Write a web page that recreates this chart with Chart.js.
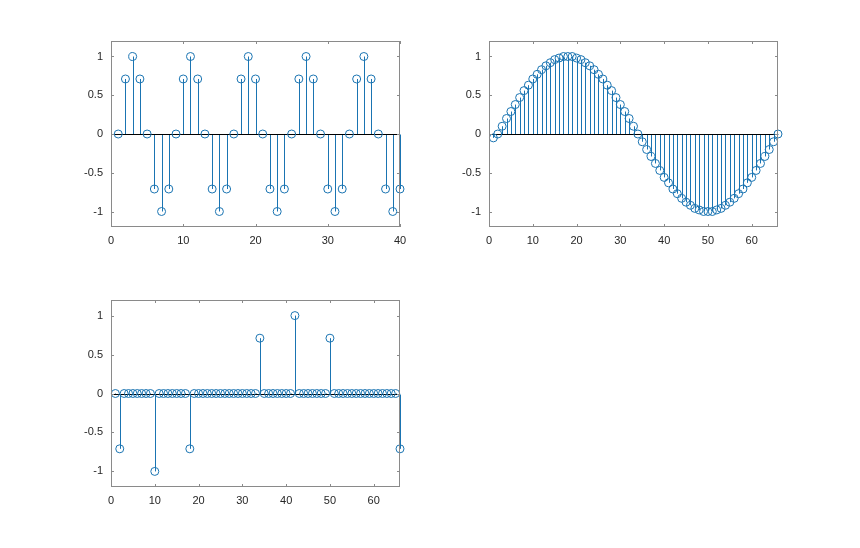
<!DOCTYPE html>
<html>
<head>
<meta charset="utf-8">
<script src="https://cdn.jsdelivr.net/npm/chart.js@4/dist/chart.umd.min.js"></script>
<style>
  html, body { margin: 0; padding: 0; background: #fff; }
  #fig { position: relative; width: 860px; height: 548px; overflow: hidden; }
  canvas { position: absolute; }
</style>
</head>
<body>
<div id="fig">
  <canvas id="ax1" width="344" height="226" style="left:71px;top:31px"></canvas>
  <canvas id="ax2" width="344" height="226" style="left:449px;top:31px"></canvas>
  <canvas id="ax3" width="344" height="227" style="left:71px;top:290px"></canvas>
</div>
<script>
// subplot 1: 40 samples
const sig1 = [
  0, 0.71, 1, 0.71, 0, -0.71, -1, -0.71,
  0, 0.71, 1, 0.71, 0, -0.71, -1, -0.71,
  0, 0.71, 1, 0.71, 0, -0.71, -1, -0.71,
  0, 0.71, 1, 0.71, 0, -0.71, -1, -0.71,
  0, 0.71, 1, 0.71, 0, -0.71, -1, -0.71
];

// subplot 2: 66 samples
const sig2 = [
  -0.05,
  0, 0.10, 0.20, 0.29, 0.38, 0.47, 0.56, 0.63, 0.71, 0.77, 0.83, 0.88, 0.92, 0.96, 0.98, 1.00,
  1.00, 1.00, 0.98, 0.96, 0.92, 0.88, 0.83, 0.77, 0.71, 0.63, 0.56, 0.47, 0.38, 0.29, 0.20, 0.10,
  0, -0.10, -0.20, -0.29, -0.38, -0.47, -0.56, -0.63, -0.71, -0.77, -0.83, -0.88, -0.92, -0.96, -0.98, -1.00,
  -1.00, -1.00, -0.98, -0.96, -0.92, -0.88, -0.83, -0.77, -0.71, -0.63, -0.56, -0.47, -0.38, -0.29, -0.20, -0.10,
  0
];

// subplot 3: 66 samples
const sig3 = [
  0, -0.71, 0, 0, 0, 0, 0, 0, 0, -1,
  0, 0, 0, 0, 0, 0, 0, -0.71, 0, 0,
  0, 0, 0, 0, 0, 0, 0, 0, 0, 0,
  0, 0, 0, 0.71, 0, 0, 0, 0, 0, 0,
  0, 1, 0, 0, 0, 0, 0, 0, 0, 0.71,
  0, 0, 0, 0, 0, 0, 0, 0, 0, 0,
  0, 0, 0, 0, 0, -0.71
];

const xTicks40 = [0, 10, 20, 30, 40];
const xTicks66 = [0, 10, 20, 30, 40, 50, 60];
const yTicks = [-1, -0.5, 0, 0.5, 1];

const stemColor = '#1a74b2';
const boxColor = '#8a8a8a';
const textColor = '#262626';
const tickFont = { family: 'Liberation Sans, Arial, sans-serif', size: 11 };

// stems + baseline before the markers, box + inward ticks after
const stemPlugin = {
  id: 'stems',
  beforeDatasetsDraw(chart) {
    const { ctx, chartArea, scales: { x, y } } = chart;
    const y0 = Math.round(y.getPixelForValue(0)) + 0.5;
    ctx.save();
    ctx.strokeStyle = stemColor;
    ctx.lineWidth = 1;
    chart.data.datasets[0].data.forEach((p) => {
      const px = Math.round(x.getPixelForValue(p.x)) + 0.5;
      ctx.beginPath();
      ctx.moveTo(px, y0);
      ctx.lineTo(px, y.getPixelForValue(p.y));
      ctx.stroke();
    });
    ctx.strokeStyle = '#000';
    ctx.beginPath();
    ctx.moveTo(chartArea.left, y0);
    ctx.lineTo(chartArea.right, y0);
    ctx.stroke();
    ctx.restore();
  },
  afterDraw(chart) {
    const { ctx, chartArea: a, scales: { x, y } } = chart;
    const len = 3;
    ctx.save();
    ctx.strokeStyle = boxColor;
    ctx.lineWidth = 1;
    ctx.strokeRect(a.left + 0.5, a.top + 0.5, a.right - a.left - 1, a.bottom - a.top - 1);
    ctx.beginPath();
    x.ticks.forEach((t) => {
      const px = Math.round(x.getPixelForValue(t.value)) + 0.5;
      ctx.moveTo(px, a.bottom); ctx.lineTo(px, a.bottom - len);
      ctx.moveTo(px, a.top); ctx.lineTo(px, a.top + len);
    });
    y.ticks.forEach((t) => {
      const py = Math.round(y.getPixelForValue(t.value)) + 0.5;
      ctx.moveTo(a.left, py); ctx.lineTo(a.left + len, py);
      ctx.moveTo(a.right, py); ctx.lineTo(a.right - len, py);
    });
    ctx.stroke();
    ctx.restore();
  }
};

function stemChart(canvasId, values, xMax, xTicks) {
  const ctx = document.getElementById(canvasId);
  const points = values.map((v, i) => ({ x: i + 1, y: v }));
  return new Chart(ctx, {
    type: 'scatter',
    data: {
      datasets: [
        {
          data: points,
          pointStyle: 'circle',
          pointRadius: 4,
          pointHoverRadius: 4,
          pointBorderWidth: 1,
          pointBorderColor: stemColor,
          pointBackgroundColor: 'rgba(0,0,0,0)',
          clip: false
        }
      ]
    },
    options: {
      responsive: false,
      animation: false,
      devicePixelRatio: 1,
      events: [],
      layout: { padding: { top: 10, right: 15, left: 0, bottom: 0 } },
      plugins: { legend: { display: false }, tooltip: { enabled: false } },
      scales: {
        x: {
          type: 'linear',
          min: 0,
          max: xMax,
          grid: { display: false, drawTicks: false },
          border: { display: false },
          afterBuildTicks: (s) => { s.ticks = xTicks.map((v) => ({ value: v })); },
          afterFit: (s) => { s.height = 30; s.paddingLeft = 0; s.paddingRight = 0; },
          ticks: {
            color: textColor,
            padding: 7,
            maxRotation: 0,
            font: tickFont,
            callback: (v) => String(v)
          }
        },
        y: {
          type: 'linear',
          min: -1.2,
          max: 1.2,
          grid: { display: false, drawTicks: false },
          border: { display: false },
          afterBuildTicks: (s) => { s.ticks = yTicks.map((v) => ({ value: v })); },
          afterFit: (s) => { s.width = 40; s.paddingTop = 0; s.paddingBottom = 0; },
          ticks: {
            color: textColor,
            padding: 8,
            font: tickFont,
            callback: (v) => String(v)
          }
        }
      }
    },
    plugins: [stemPlugin]
  });
}

stemChart('ax1', sig1, 40, xTicks40);
stemChart('ax2', sig2, 66, xTicks66);
stemChart('ax3', sig3, 66, xTicks66);
</script>
</body>
</html>
